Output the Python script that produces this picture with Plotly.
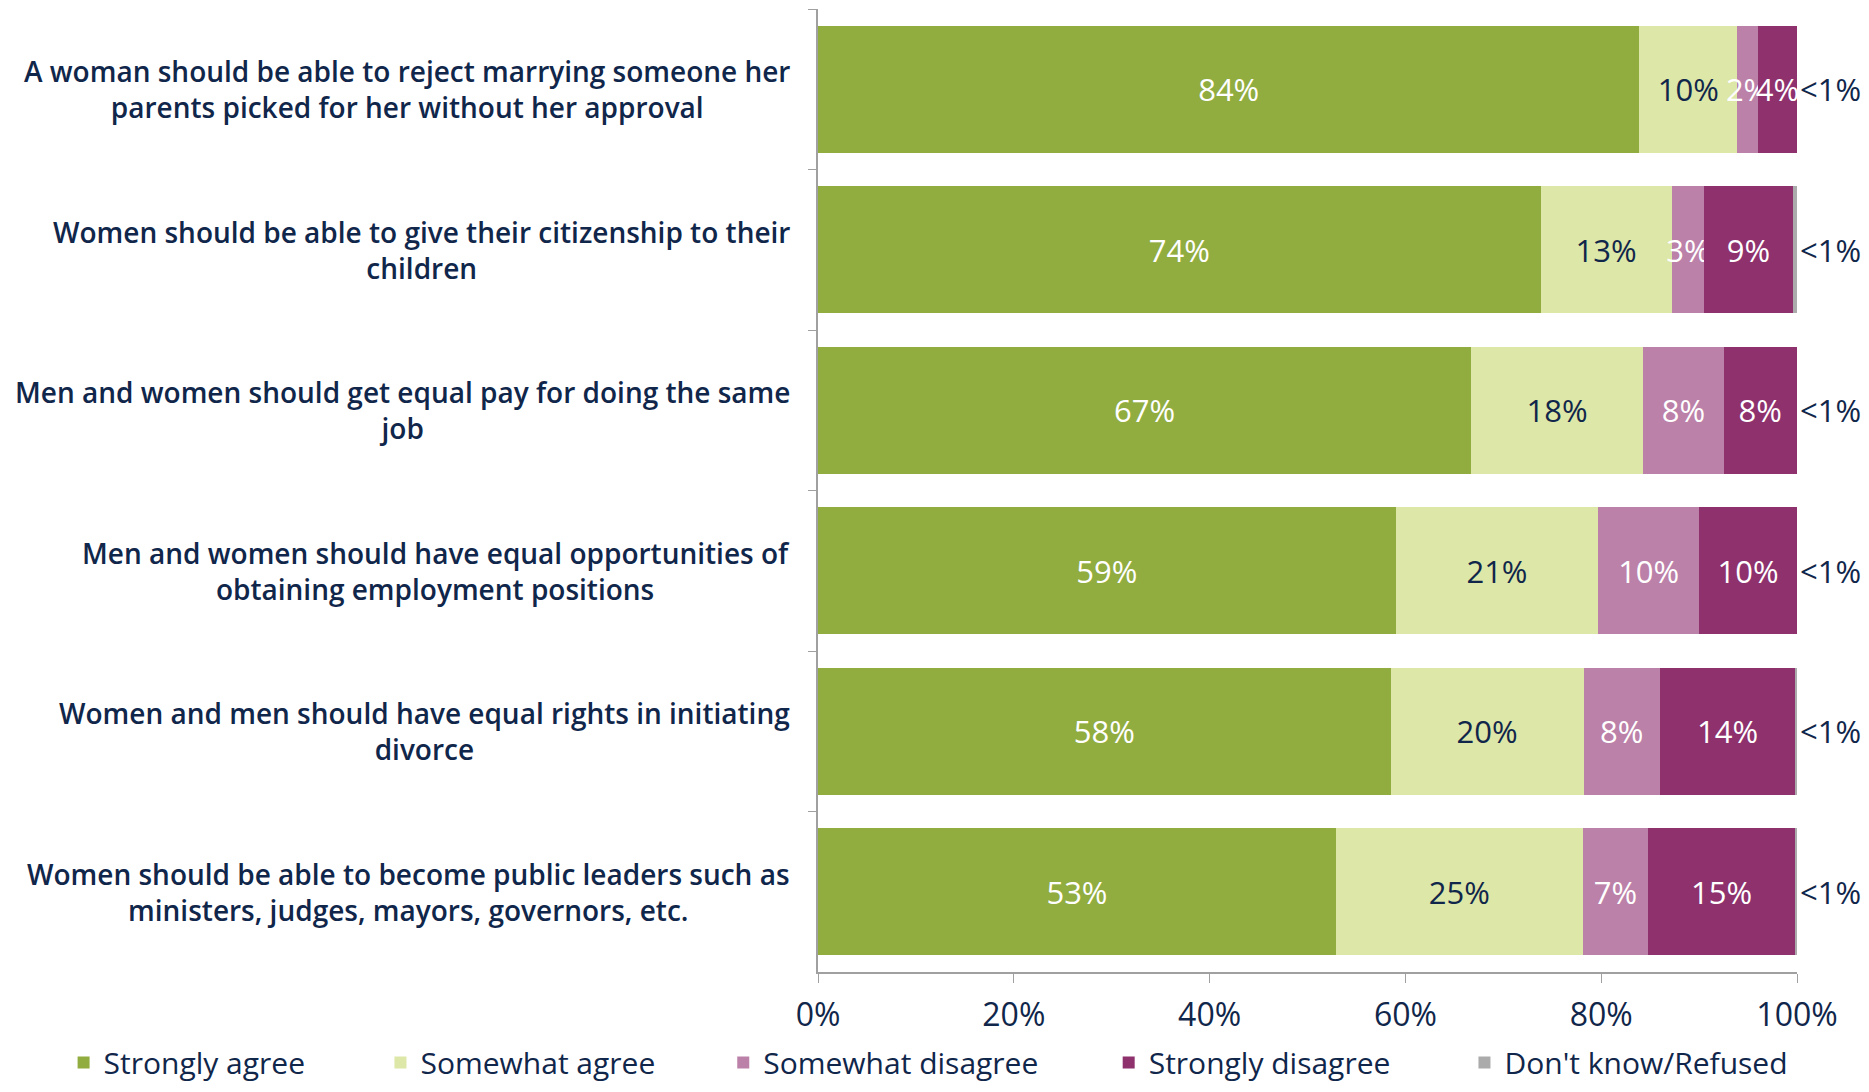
import plotly.graph_objects as go

statements = [
    "A woman should be able to reject marrying someone her<br>parents picked for her without her approval",
    "Women should be able to give their citizenship to their<br>children",
    "Men and women should get equal pay for doing the same<br>job",
    "Men and women should have equal opportunities of<br>obtaining employment positions",
    "Women and men should have equal rights in initiating<br>divorce",
    "Women should be able to become public leaders such as<br>ministers, judges, mayors, governors, etc.",
]

strongly_agree = [0.839, 0.738, 0.667, 0.590, 0.585, 0.529]
somewhat_agree = [0.100, 0.134, 0.176, 0.207, 0.197, 0.252]
somewhat_disagree = [0.021, 0.033, 0.082, 0.103, 0.078, 0.067]
strongly_disagree = [0.040, 0.091, 0.075, 0.100, 0.138, 0.150]
dont_know = [0.000, 0.004, 0.000, 0.000, 0.002, 0.002]

strongly_agree_lbl = ["84%", "74%", "67%", "59%", "58%", "53%"]
somewhat_agree_lbl = ["10%", "13%", "18%", "21%", "20%", "25%"]
somewhat_disagree_lbl = ["2%", "3%", "8%", "10%", "8%", "7%"]
strongly_disagree_lbl = ["4%", "9%", "8%", "10%", "14%", "15%"]
dont_know_lbl = ["<1%", "<1%", "<1%", "<1%", "<1%", "<1%"]

tick_vals = [0, 0.2, 0.4, 0.6, 0.8, 1.0]
tick_text = ["0%", "20%", "40%", "60%", "80%", "100%"]

navy = "#10264a"
series = [
    ("Strongly agree", strongly_agree, strongly_agree_lbl, "#92ad3f", "white"),
    ("Somewhat agree", somewhat_agree, somewhat_agree_lbl, "#dde7a7", navy),
    ("Somewhat disagree", somewhat_disagree, somewhat_disagree_lbl, "#bc81a8", "white"),
    ("Strongly disagree", strongly_disagree, strongly_disagree_lbl, "#8e316d", "white"),
    ("Don't know/Refused", dont_know, None, "#ababab", navy),
]
# legend entry left edges (container fraction)
legend_x = [0.030, 0.201, 0.386, 0.594, 0.786]

W, H = 1853, 1076

fig = go.Figure()
for i, (name, vals, lbls, color, tcolor) in enumerate(series):
    lg = "legend" if i == 0 else "legend%d" % (i + 1)
    fig.add_trace(go.Bar(
        y=statements, x=vals, name=name, orientation="h",
        marker=dict(color=color, line=dict(width=0)),
        text=lbls,
        textposition="inside" if lbls else "none",
        insidetextanchor="middle",
        textangle=0,
        constraintext="none",
        textfont=dict(family="Open Sans", size=31, color=tcolor),
        hoverinfo="skip",
        legend=lg,
    ))

# "<1%" labels just past the end of each stacked bar
totals = [a + b + c + d + e for a, b, c, d, e in
          zip(strongly_agree, somewhat_agree, somewhat_disagree, strongly_disagree, dont_know)]
for s, t, lbl in zip(statements, totals, dont_know_lbl):
    fig.add_annotation(
        x=min(t, 1.0), xref="x", y=s, yref="y", xanchor="left", xshift=1,
        text=lbl, showarrow=False,
        font=dict(family="Open Sans", size=31, color=navy),
    )

for s in statements:
    fig.add_annotation(
        x=0, xref="paper", y=s, yref="y", xanchor="right", xshift=-26,
        text=s, showarrow=False, align="center",
        font=dict(family="Open Sans", size=28, color=navy, weight=600),
    )

legends = {}
for i, lx in enumerate(legend_x):
    key = "legend" if i == 0 else "legend%d" % (i + 1)
    legends[key] = dict(
        orientation="h", xref="container", yref="paper",
        x=lx, y=-0.094, xanchor="left", yanchor="middle",
        font=dict(family="Open Sans", size=30, color=navy),
        itemwidth=30, bgcolor="rgba(0,0,0,0)",
    )

fig.update_layout(
    barmode="stack",
    bargap=0.21,
    width=W, height=H,
    margin=dict(l=810, r=64, t=1, b=112, autoexpand=False),
    plot_bgcolor="white", paper_bgcolor="white",
    showlegend=True,
    xaxis=dict(
        range=[0, 1], tickvals=tick_vals, ticktext=tick_text,
        showgrid=False, zeroline=False,
        showline=True, linecolor="#a0a0a0", linewidth=1.5,
        ticks="outside", ticklen=9, tickcolor="#a0a0a0",
        ticklabelstandoff=5,
        tickfont=dict(family="Open Sans", size=32, color=navy),
    ),
    yaxis=dict(
        autorange="reversed", showticklabels=False,
        showline=True, linecolor="#a0a0a0", linewidth=1.5,
        ticks="outside", ticklen=8, tickcolor="#a0a0a0",
        tickson="boundaries", showgrid=False,
    ),
    **legends,
)

fig.write_html("out.html")
